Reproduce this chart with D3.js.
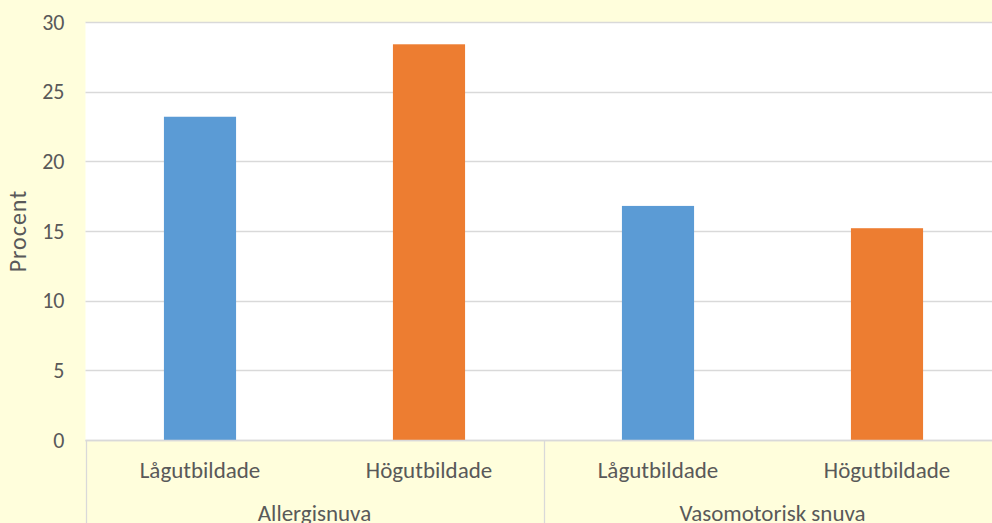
<!DOCTYPE html>
<html>
<head>
<meta charset="utf-8">
<script src="https://cdn.jsdelivr.net/npm/d3@7"></script>
<style>
html,body{margin:0;padding:0;background:#FFFEDC;}
svg{display:block;}
text{font-family:Carlito,"Open Sans","Liberation Sans",sans-serif;fill:#595959;}
</style>
</head>
<body>
<svg id="chart" width="992" height="523"></svg>
<script>
const groups = ["Allergisnuva", "Vasomotorisk snuva"];
const subgroups = ["Lågutbildade", "Högutbildade"];
const values = [23.2, 28.4, 16.8, 15.2];
const colors = ["#5B9BD5", "#ED7D31"];
const yTicks = [0, 5, 10, 15, 20, 25, 30];

const W = 992, H = 523;
const mLeft = 85.5, mRight = 1001.5, mTop = 22, mBottom = 440;
const svg = d3.select("#chart");

const data = values.map((v, i) => ({
  key: groups[Math.floor(i / 2)] + "|" + subgroups[i % 2],
  group: groups[Math.floor(i / 2)],
  sub: subgroups[i % 2],
  si: i % 2,
  value: v
}));

const x = d3.scaleBand().domain(data.map(d => d.key)).range([mLeft, mRight]).paddingInner(0.685).paddingOuter(0.3425);
const step = x.step();
const y = d3.scaleLinear().domain([0, 30]).range([mBottom, mTop]);

// plot area
svg.append("rect").attr("x", mLeft).attr("y", mTop).attr("width", W - mLeft).attr("height", mBottom - mTop).attr("fill", "#FFFFFF");

// gridlines
svg.append("g").selectAll("line").data(yTicks).join("line")
  .attr("x1", mLeft).attr("x2", W).attr("y1", d => Math.round(y(d)) + 0.5).attr("y2", d => Math.round(y(d)) + 0.5)
  .attr("stroke", "#D9D9D9").attr("stroke-width", 1.3);

// y axis labels
const yAxis = d3.axisLeft(y).tickValues(yTicks).tickSize(0).tickPadding(21);
const ya = svg.append("g").attr("transform", `translate(${mLeft},0)`).call(yAxis);
ya.select(".domain").remove();
ya.selectAll("text").style("font-size", "22px").attr("fill", "#595959")
  .style("font-family", 'Carlito,"Open Sans","Liberation Sans",sans-serif');

// y title
svg.append("text").attr("transform", `translate(26,${(mTop + mBottom) / 2}) rotate(-90)`)
  .attr("text-anchor", "middle").style("font-size", "24px").style("letter-spacing", "1px").text("Procent");

// bars
svg.append("g").selectAll("rect").data(data).join("rect")
  .attr("x", d => x(d.key)).attr("width", x.bandwidth())
  .attr("y", d => y(d.value)).attr("height", d => y(0) - y(d.value))
  .attr("fill", d => colors[d.si]);

// category axis
const axisG = svg.append("g");
axisG.append("line").attr("x1", mLeft).attr("x2", W).attr("y1", mBottom + 0.5).attr("y2", mBottom + 0.5)
  .attr("stroke", "#D9D9D9").attr("stroke-width", 1.3);
const dividers = [mLeft, mLeft + 2 * step, mRight];
axisG.selectAll("line.div").data(dividers).join("line").attr("class", "div")
  .attr("x1", d => Math.round(d) + 0.5).attr("x2", d => Math.round(d) + 0.5)
  .attr("y1", mBottom).attr("y2", H).attr("stroke", "#D9D9D9").attr("stroke-width", 1.3);

axisG.selectAll("text.sub").data(data).join("text").attr("class", "sub")
  .attr("x", d => x(d.key) + x.bandwidth() / 2).attr("y", 478)
  .attr("text-anchor", "middle").style("font-size", "23px").text(d => d.sub);

axisG.selectAll("text.grp").data(groups).join("text").attr("class", "grp")
  .attr("x", (d, i) => mLeft + step * (2 * i + 1)).attr("y", 521)
  .attr("text-anchor", "middle").style("font-size", "23px").text(d => d);
</script>
</body>
</html>
